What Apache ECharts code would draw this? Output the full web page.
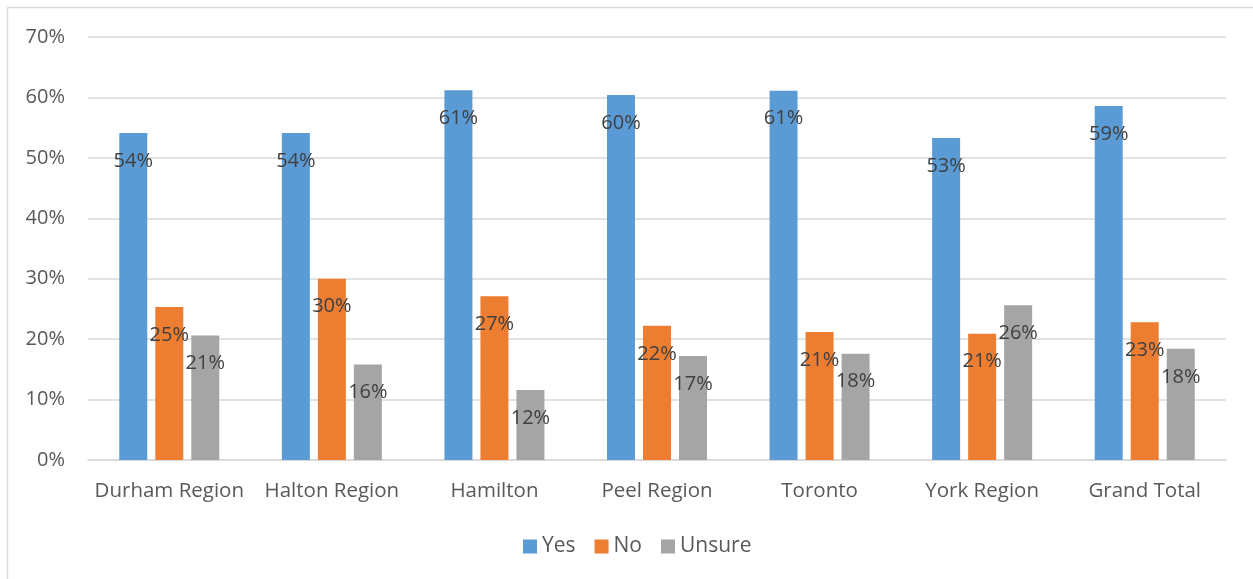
<!DOCTYPE html>
<html>
<head>
<meta charset="utf-8">
<script src="https://cdn.jsdelivr.net/npm/echarts@6/dist/echarts.min.js"></script>
<style>
html,body{margin:0;padding:0;background:#fff;}
#chart{width:1253px;height:579px;}
</style>
</head>
<body>
<div id="chart"></div>
<script>
const categories = ['Durham Region','Halton Region','Hamilton','Peel Region','Toronto','York Region','Grand Total'];
const yesValues = [54.1, 54.1, 61.2, 60.4, 61.1, 53.3, 58.6];
const noValues = [25.3, 30.0, 27.1, 22.2, 21.2, 20.9, 22.8];
const unsureValues = [20.6, 15.8, 11.6, 17.2, 17.6, 25.6, 18.4];
const seriesNames = ['Yes','No','Unsure'];
const seriesColors = ['#5B9BD5','#ED7D31','#A5A5A5'];

const FONT = '"Open Sans", "Noto Sans", sans-serif';
const chart = echarts.init(document.getElementById('chart'), null, {renderer:'canvas'});

function mkSeries(name, data, color){
  return {
    name: name,
    type: 'bar',
    data: data,
    barWidth: 28,
    barGap: '28.6%',
    itemStyle: {color: color},
    label: {
      show: true,
      position: 'insideTop',
      distance: 18,
      color: '#404040',
      fontFamily: FONT,
      fontSize: 20,
      formatter: p => Math.round(p.value) + '%'
    },
    emphasis: {disabled: true},
    animation: false
  };
}

chart.setOption({
  backgroundColor: '#fff',
  animation: false,
  graphic: [
    {type:'line', shape:{x1:7.5,y1:7.5,x2:1253,y2:7.5}, style:{stroke:'#d9d9d9', lineWidth:1.5}},
    {type:'line', shape:{x1:7.5,y1:7.5,x2:7.5,y2:579}, style:{stroke:'#d9d9d9', lineWidth:1.5}}
  ],
  grid: {left: 88, right: 27, top: 37, bottom: 119, containLabel: false},
  legend: {
    data: seriesNames,
    bottom: 17,
    left: 518,
    icon: 'rect',
    itemWidth: 14,
    itemHeight: 14,
    itemGap: 19,
    textStyle: {color:'#595959', fontFamily: FONT, fontSize: 21}
  },
  xAxis: {
    type: 'category',
    data: categories,
    axisLine: {lineStyle:{color:'#d9d9d9', width:1.5}},
    axisTick: {show:false},
    axisLabel: {color:'#595959', fontFamily: FONT, fontSize: 20.5, margin: 21, interval: 0}
  },
  yAxis: {
    type: 'value',
    min: 0, max: 70, interval: 10,
    axisLine: {show:false},
    axisTick: {show:false},
    axisLabel: {color:'#595959', fontFamily: FONT, fontSize: 20, margin: 23, formatter: '{value}%'},
    splitLine: {lineStyle:{color:'#d9d9d9', width:1.5}}
  },
  series: [
    mkSeries(seriesNames[0], yesValues, seriesColors[0]),
    mkSeries(seriesNames[1], noValues, seriesColors[1]),
    mkSeries(seriesNames[2], unsureValues, seriesColors[2])
  ]
});
</script>
</body>
</html>
